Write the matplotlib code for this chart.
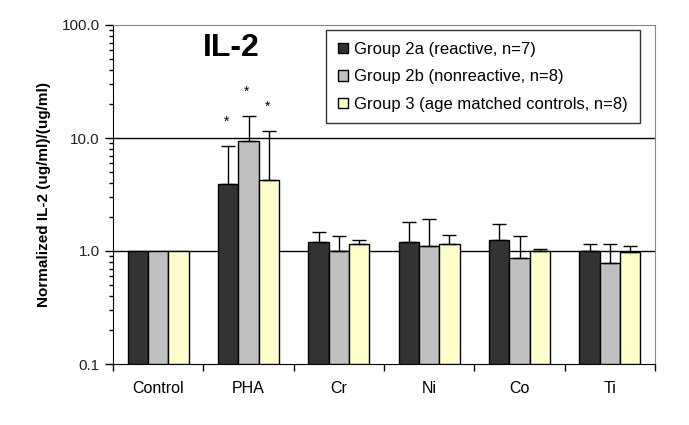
import numpy as np
import matplotlib.pyplot as plt
from matplotlib.ticker import FixedLocator, LogLocator, NullFormatter

plt.rcParams['font.family'] = ['Liberation Sans', 'DejaVu Sans']

# categories and group values (normalized IL-2)
categories = ['Control', 'PHA', 'Cr', 'Ni', 'Co', 'Ti']
labels = ['Group 2a (reactive, n=7)', 'Group 2b (nonreactive, n=8)',
          'Group 3 (age matched controls, n=8)']
g2a = [1.0, 3.9, 1.19, 1.19, 1.24, 1.01]
g2b = [1.0, 9.4, 1.0, 1.1, 0.86, 0.78]
g3 = [1.0, 4.25, 1.15, 1.15, 0.99, 0.97]
# upper error bar ends
g2a_top = [1.0, 8.5, 1.48, 1.80, 1.72, 1.15]
g2b_top = [1.0, 15.7, 1.35, 1.91, 1.35, 1.15]
g3_top = [1.0, 11.5, 1.26, 1.38, 1.05, 1.10]
stars = ['', '*', '', '', '', '']

colors = ['#333333', '#c0c0c0', '#ffffcc']

fig = plt.figure(figsize=(6.89, 4.25), dpi=100)
ax = fig.add_axes([113/689, 1 - 364/425, (655-113)/689, (364-25)/425])

x = np.arange(len(categories))
w = 0.225
series = [g2a, g2b, g3]
tops = [g2a_top, g2b_top, g3_top]
for i in range(3):
    pos = x + (i - 1) * w
    vals = np.array(series[i])
    top = np.array(tops[i])
    ax.bar(pos, vals - 0.1, width=w, bottom=0.1, color=colors[i],
           edgecolor='black', linewidth=1, label=labels[i], zorder=3)
    has = top > vals
    ax.errorbar(pos[has], vals[has], yerr=[np.zeros(has.sum()), (top - vals)[has]],
                fmt='none', ecolor='black', elinewidth=1, capsize=5, capthick=1,
                zorder=4)
    for j in range(len(categories)):
        if stars[j]:
            ax.text(pos[j] - 0.02, top[j] * 1.65, stars[j], ha='center',
                    va='center', fontsize=10)

ax.set_yscale('log')
ax.set_ylim(0.1, 100)
ax.set_xlim(-0.5, len(categories) - 0.5)
ax.yaxis.set_major_locator(FixedLocator([0.1, 1, 10, 100]))
ax.set_yticklabels(['0.1', '1.0', '10.0', '100.0'], fontsize=11, color='#222222')
ax.yaxis.set_minor_locator(LogLocator(base=10, subs=np.arange(2, 10)))
ax.yaxis.set_minor_formatter(NullFormatter())
ax.tick_params(axis='y', which='major', length=6, direction='out', width=1)
ax.tick_params(axis='y', which='minor', length=3, direction='out', width=1)

ax.set_xticks(x)
ax.set_xticklabels(categories, fontsize=11.5)
ax.set_xticks(np.arange(len(categories) + 1) - 0.5, minor=True)
ax.tick_params(axis='x', which='major', length=0, pad=12)
ax.tick_params(axis='x', which='minor', length=5, direction='out', width=1)

for yv in [1, 10]:
    ax.axhline(yv, color='black', linewidth=1, zorder=2)

ax.spines['top'].set_color('#888888')
ax.spines['right'].set_color('#888888')

ax.set_ylabel('Normalized IL-2 (ug/ml)/(ug/ml)', fontsize=11, fontweight='bold',
              labelpad=8)
ax.text(0.806, 63, 'IL-2', fontsize=23, fontweight='bold', ha='center',
        va='center')

leg = ax.legend(loc='upper right', bbox_to_anchor=(0.972, 0.985), fontsize=12,
                frameon=True, fancybox=False, edgecolor='black',
                handlelength=0.6, handleheight=0.6, handletextpad=0.4,
                borderpad=0.7, labelspacing=0.75, borderaxespad=0)
leg.get_frame().set_linewidth(1)

fig.savefig('out.png', dpi=100)
